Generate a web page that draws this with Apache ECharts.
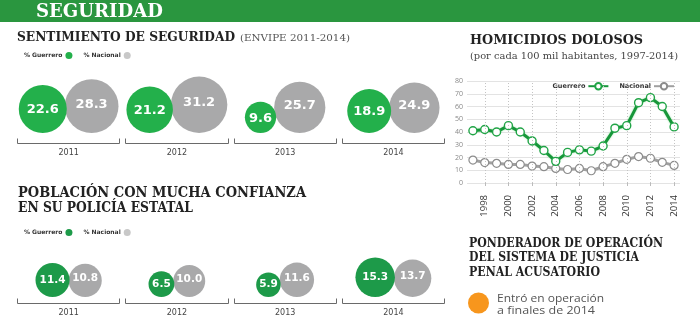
<!DOCTYPE html>
<html><head><meta charset="utf-8">
<script src="https://cdn.jsdelivr.net/npm/echarts@6/dist/echarts.min.js"></script>
<style>html,body{margin:0;padding:0;background:#fff}#c{width:700px;height:335px}</style>
</head><body><div id="c"></div>
<script>
// ---------- DATA ----------
const bubbleYears = ['2011','2012','2013','2014'];
const sentGuerrero = [22.6, 21.2, 9.6, 18.9];
const sentNacional = [28.3, 31.2, 25.7, 24.9];
const confGuerrero = [11.4, 6.5, 5.9, 15.3];
const confNacional = [10.8, 10.0, 11.6, 13.7];

const homYears = ['1997','1998','1999','2000','2001','2002','2003','2004','2005','2006','2007','2008','2009','2010','2011','2012','2013','2014'];
const homGuerrero = [41, 42, 40, 45, 40, 33, 25.5, 17, 24, 26, 25, 29, 43, 45, 63, 67, 60, 44];
const homNacional = [18, 16, 15.4, 14.6, 14.6, 13.3, 12.8, 11.4, 10.6, 11.4, 9.6, 12.8, 15.4, 18.6, 20.7, 19.4, 16.2, 13.8];
const homTicks = [0, 10, 20, 30, 40, 50, 60, 70, 80];

// ---------- STYLE ----------
const GREEN_TOP = '#23b04b', GREEN_BOT = '#1d9a49', GRAY = '#a9a9aa';
const HEAD_GREEN = '#2a963f';
const SLAB = '"DejaVu Serif", serif';
const SANS = '"Open Sans", "Lato", sans-serif';
const WIDE = '"DejaVu Sans", sans-serif';
const K = 5.05; // radius per sqrt(value)

const mctx = document.createElement('canvas').getContext('2d');
function fitText(text, font, x, y, targetW, fill) {
  mctx.font = font;
  const w = mctx.measureText(text).width;
  return { type: 'text', x: x, y: y, scaleX: targetW / w, silent: true,
    style: { text: text, font: font, fill: fill, align: 'left', verticalAlign: 'middle' } };
}

function pairItems(years, gv, nv, overlap, gap) {
  const g = [], n = [];
  years.forEach((y, i) => {
    const rg = K * Math.sqrt(gv[i]), rn = K * Math.sqrt(nv[i]);
    const w = 2 * rg + 2 * rn - overlap;
    g.push({ value: [y, 0, gv[i]], symbolSize: 2 * rg, symbolOffset: [-w / 2 + rg, -(rg + gap)] });
    n.push({ value: [y, 0, nv[i]], symbolSize: 2 * rn, symbolOffset: [w / 2 - rn, -(rn + gap)] });
  });
  return { g, n };
}
const sentPair = pairItems(bubbleYears, sentGuerrero, sentNacional, 2, 10);
const confPair = pairItems(bubbleYears, confGuerrero, confNacional, 1, 6);

function bracket(params, api) {
  const c = api.coord([api.value(0), 0]);
  const w = api.size([1, 0])[0];
  const g = 2.5, h = 5;
  const x0 = Math.round(c[0] - w / 2 + g) + 0.5, x1 = Math.round(c[0] + w / 2 - g) - 0.5, y = Math.round(c[1]) + 0.5;
  return { type: 'polyline', shape: { points: [[x0, y - h], [x0, y], [x1, y], [x1, y - h]] },
    style: { stroke: '#6a6a6a', lineWidth: 1, fill: null } };
}

const bubbleLabel = (fs, dy) => ({ show: true, position: 'inside', color: '#fff', fontFamily: WIDE, fontWeight: 'bold', fontSize: fs,
  offset: [0, dy], formatter: p => p.value[2].toFixed(1) });

const legendText = { fontSize: 6, fontWeight: 'bold', color: '#333', fontFamily: WIDE, padding: [0, -2, 0, 0] };

const chart = echarts.init(document.getElementById('c'), null, { renderer: 'canvas' });
const evenYears = homYears.filter(y => +y % 2 === 0);

chart.setOption({
  animation: false,
  backgroundColor: '#fff',
  grid: [
    { left: 14.5, right: 252.5, top: 60, bottom: 192 },
    { left: 14.5, right: 252.5, top: 240, bottom: 32 },
    { left: 467, right: 20, top: 81, bottom: 152 }
  ],
  xAxis: [
    { gridIndex: 0, type: 'category', data: bubbleYears, axisLine: { show: false }, axisTick: { show: false },
      axisLabel: { margin: 6, fontSize: 8, color: '#444', fontFamily: WIDE } },
    { gridIndex: 1, type: 'category', data: bubbleYears, axisLine: { show: false }, axisTick: { show: false },
      axisLabel: { margin: 6, fontSize: 8, color: '#444', fontFamily: WIDE } },
    { gridIndex: 2, type: 'category', data: homYears, boundaryGap: true, axisLine: { show: false },
      axisTick: { show: true, alignWithLabel: true, length: 3, interval: (i, v) => +v % 2 === 0, lineStyle: { color: '#bbb' } },
      axisLabel: { rotate: 90, margin: 12, fontSize: 9.5, color: '#333', fontFamily: SANS, interval: (i, v) => +v % 2 === 0 } }
  ],
  yAxis: [
    { gridIndex: 0, type: 'value', min: 0, max: 1, show: false },
    { gridIndex: 1, type: 'value', min: 0, max: 1, show: false },
    { gridIndex: 2, type: 'value', min: homTicks[0], max: homTicks[homTicks.length - 1], interval: 10,
      axisLine: { show: false }, axisTick: { show: false },
      axisLabel: { fontSize: 7, color: '#888', margin: 4, fontFamily: SANS },
      splitLine: { lineStyle: { color: '#e3e3e3', width: 1 } } }
  ],
  legend: [
    { left: 24, top: 52, padding: 0, align: 'right', itemWidth: 7, itemHeight: 7, itemGap: 11, icon: 'circle',
      textStyle: legendText,
      data: [{ name: '% Guerrero', itemStyle: { color: GREEN_TOP } }, { name: '% Nacional', itemStyle: { color: '#c8c8c8' } }] },
    { left: 24, top: 229, padding: 0, align: 'right', itemWidth: 7, itemHeight: 7, itemGap: 11, icon: 'circle',
      textStyle: legendText,
      data: [{ name: '% Guerrero', itemStyle: { color: GREEN_BOT } }, { name: '% Nacional', itemStyle: { color: '#c8c8c8' } }] },
    { right: 25, top: 82, padding: 0, align: 'right', itemWidth: 20, itemHeight: 8, itemGap: 10,
      textStyle: { fontSize: 6.5, fontWeight: 'bold', color: '#333', fontFamily: WIDE, padding: [0, -2, 0, 0] },
      data: ['Guerrero', 'Nacional'] }
  ],
  series: [
    { type: 'custom', xAxisIndex: 0, yAxisIndex: 0, renderItem: bracket, data: bubbleYears.map(y => [y, 0]), silent: true },
    { type: 'custom', xAxisIndex: 1, yAxisIndex: 1, renderItem: bracket, data: bubbleYears.map(y => [y, 0]), silent: true },
    { name: '% Nacional', type: 'scatter', xAxisIndex: 0, yAxisIndex: 0, itemStyle: { color: GRAY, opacity: 1 },
      label: bubbleLabel(13, -2), data: sentPair.n },
    { name: '% Guerrero', type: 'scatter', xAxisIndex: 0, yAxisIndex: 0, itemStyle: { color: GREEN_TOP, opacity: 1 },
      label: bubbleLabel(13, 1), data: sentPair.g },
    { name: '% Nacional', type: 'scatter', xAxisIndex: 1, yAxisIndex: 1, itemStyle: { color: GRAY, opacity: 1 },
      label: bubbleLabel(10.5, -2), data: confPair.n },
    { name: '% Guerrero', type: 'scatter', xAxisIndex: 1, yAxisIndex: 1, itemStyle: { color: GREEN_BOT, opacity: 1 },
      label: bubbleLabel(10.5, 0), data: confPair.g },
    { name: 'Nacional', type: 'line', xAxisIndex: 2, yAxisIndex: 2, data: homNacional, symbol: 'circle', symbolSize: 8,
      showSymbol: true, showAllSymbol: true,
      lineStyle: { color: '#a0a0a0', width: 3 }, itemStyle: { color: '#fff', borderColor: '#8c8c8c', borderWidth: 1.2 },
      markLine: { silent: true, symbol: 'none', label: { show: false },
        lineStyle: { color: '#c4c4c4', type: [1, 2], width: 1 }, data: evenYears.map(y => ({ xAxis: y })) } },
    { name: 'Guerrero', type: 'line', xAxisIndex: 2, yAxisIndex: 2, data: homGuerrero, symbol: 'circle', symbolSize: 8,
      showSymbol: true, showAllSymbol: true,
      lineStyle: { color: '#17963a', width: 3, shadowColor: 'rgba(80,210,100,0.6)', shadowBlur: 2 },
      itemStyle: { color: '#fff', borderColor: '#20a446', borderWidth: 1.4 } }
  ],
  graphic: [
    { type: 'rect', left: 0, top: 0, shape: { width: 700, height: 22 }, style: { fill: HEAD_GREEN }, silent: true },
    fitText('SEGURIDAD', 'bold 18px ' + SLAB, 36, 12.5, 127, '#fff'),
    fitText('SENTIMIENTO DE SEGURIDAD', 'bold 13.5px ' + SLAB, 17, 37.5, 218, '#222'),
    fitText('(ENVIPE 2011-2014)', '10px ' + SLAB, 240, 38, 110, '#555'),
    fitText('POBLACIÓN CON MUCHA CONFIANZA', 'bold 14px ' + SLAB, 18, 193.5, 288, '#222'),
    fitText('EN SU POLICÍA ESTATAL', 'bold 14px ' + SLAB, 18, 208, 175, '#222'),
    fitText('HOMICIDIOS DOLOSOS', 'bold 13.5px ' + SLAB, 470, 40.5, 173, '#222'),
    fitText('(por cada 100 mil habitantes, 1997-2014)', '10px ' + SLAB, 470, 56, 208, '#444'),
    fitText('PONDERADOR DE OPERACIÓN', 'bold 13px ' + SLAB, 469, 243.5, 194, '#222'),
    fitText('DEL SISTEMA DE JUSTICIA', 'bold 13px ' + SLAB, 469, 258, 170, '#222'),
    fitText('PENAL ACUSATORIO', 'bold 13px ' + SLAB, 469, 272.5, 131, '#222'),
    { type: 'circle', shape: { cx: 478.5, cy: 303, r: 10.5 }, style: { fill: '#f7961d' }, silent: true },
    fitText('Entró en operación', '11.5px ' + SANS, 497, 299, 107, '#555'),
    fitText('a finales de 2014', '11.5px ' + SANS, 497, 311, 98, '#555')
  ]
});
</script></body></html>
